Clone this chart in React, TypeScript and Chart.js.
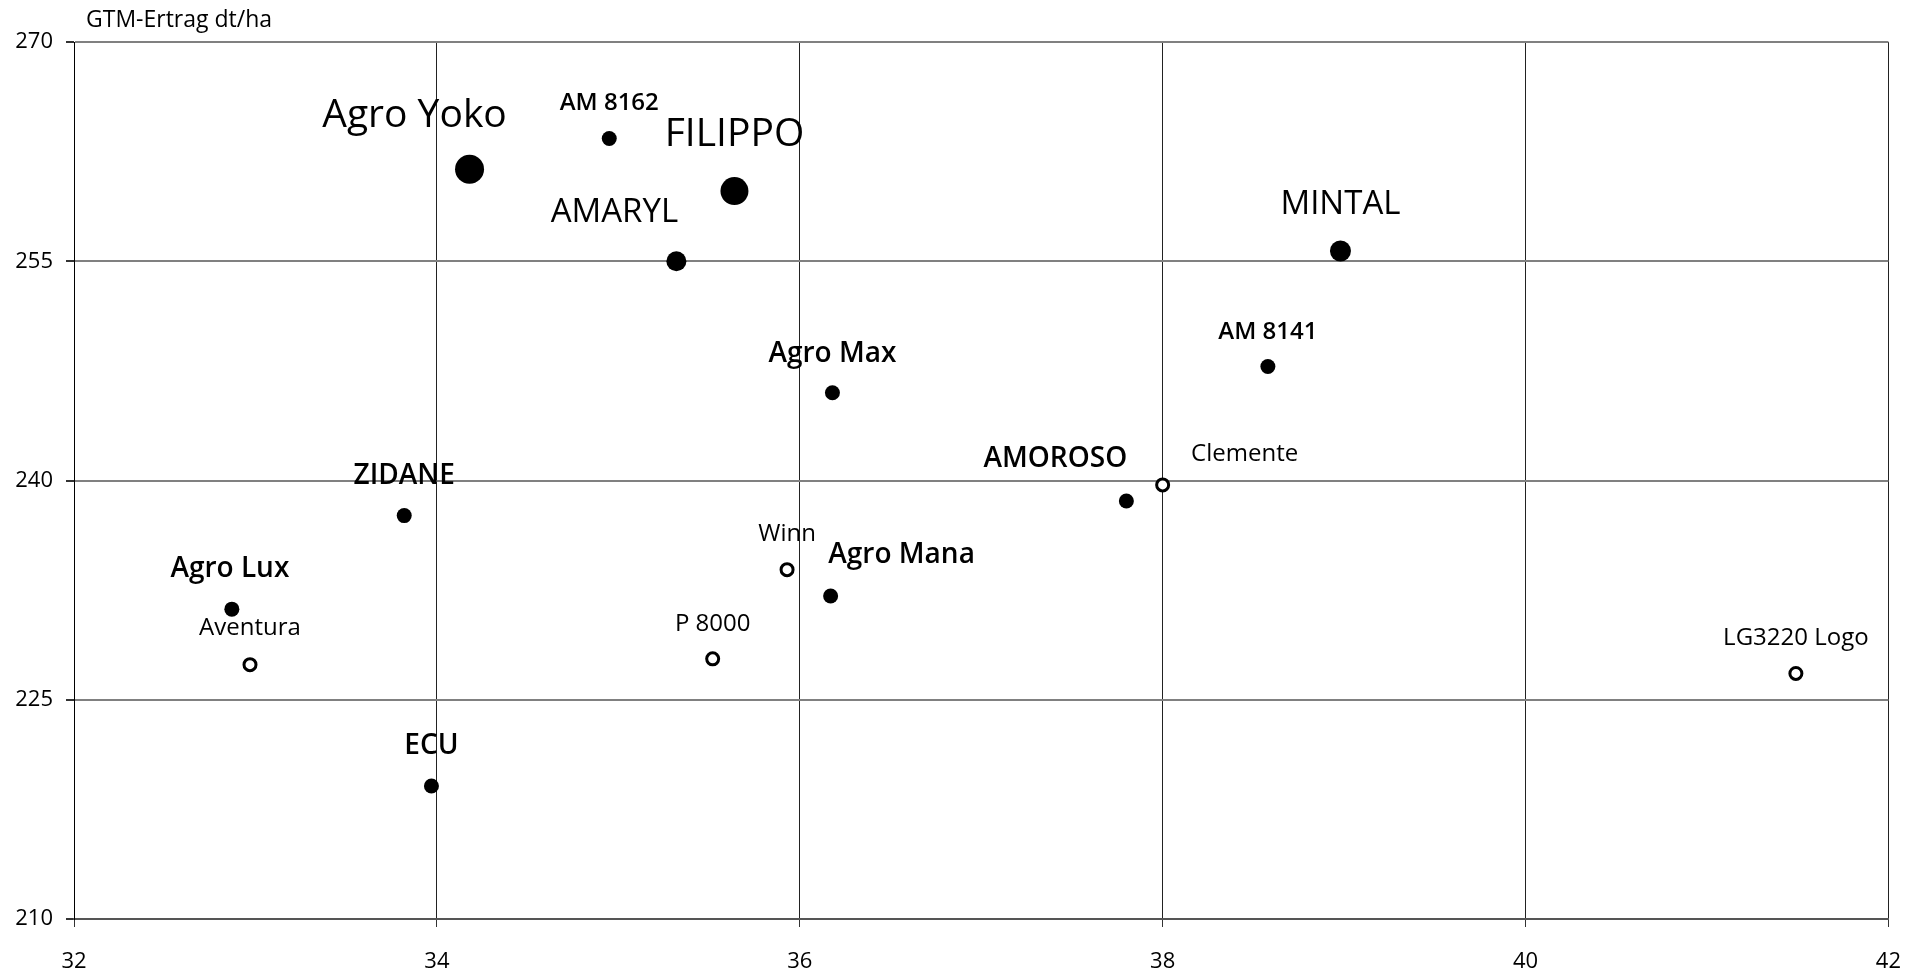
import React, { useEffect, useRef } from "react";
import { Chart, registerables } from "chart.js";

Chart.register(...registerables);

// ---- data ----
const xTickValues = [32, 34, 36, 38, 40, 42];
const yTickValues = [210, 225, 240, 255, 270];
const yAxisTitle = "GTM-Ertrag dt/ha";

const filledNames = ["Agro Yoko", "AM 8162", "FILIPPO", "AMARYL", "MINTAL", "AM 8141", "Agro Max", "AMOROSO", "ZIDANE", "Agro Lux", "Agro Mana", "ECU"];
const filledOil = [34.18, 34.95, 35.64, 35.32, 38.98, 38.58, 36.18, 37.8, 33.82, 32.87, 36.17, 33.97];
const filledYield = [261.3, 263.4, 259.8, 255.0, 255.7, 247.8, 246.0, 238.6, 237.6, 231.2, 232.1, 219.1];

const openNames = ["Clemente", "Winn", "P 8000", "Aventura", "LG3220 Logo"];
const openOil = [38.0, 35.93, 35.52, 32.97, 41.49];
const openYield = [239.7, 233.9, 227.8, 227.4, 226.8];

// ---- styles (sizes, label offsets) ----
type LabelStyle = { r: number; dx: number; dy: number; size: number; weight: number; align: CanvasTextAlign };
const filledStyles: LabelStyle[] = [
  { r: 14.5, dx: -55, dy: -42, size: 39, weight: 400, align: "center" },
  { r: 7.5, dx: 0, dy: -28, size: 24, weight: 600, align: "center" },
  { r: 14, dx: 0, dy: -45, size: 39, weight: 400, align: "center" },
  { r: 10, dx: -62, dy: -39, size: 33, weight: 400, align: "center" },
  { r: 10.5, dx: 0, dy: -37, size: 33, weight: 400, align: "center" },
  { r: 7.5, dx: 0, dy: -27, size: 24, weight: 600, align: "center" },
  { r: 7.5, dx: 0, dy: -31, size: 28, weight: 600, align: "center" },
  { r: 7.5, dx: -71, dy: -34, size: 28, weight: 600, align: "center" },
  { r: 7.5, dx: 0, dy: -32, size: 28, weight: 600, align: "center" },
  { r: 7.5, dx: -2, dy: -32, size: 28, weight: 600, align: "center" },
  { r: 7.5, dx: 71, dy: -33, size: 28, weight: 600, align: "center" },
  { r: 7.5, dx: 0, dy: -32, size: 28, weight: 600, align: "center" },
];
const openStyles: LabelStyle[] = [
  { r: 6, dx: 82, dy: -24, size: 24, weight: 400, align: "center" },
  { r: 6, dx: 0, dy: -29, size: 24, weight: 400, align: "center" },
  { r: 6, dx: 0, dy: -28, size: 24, weight: 400, align: "center" },
  { r: 6, dx: 0, dy: -30, size: 24, weight: 400, align: "center" },
  { r: 6, dx: 0, dy: -28, size: 24, weight: 400, align: "center" },
];

const FONT = '"Open Sans", "DejaVu Sans", sans-serif';

const labelPlugin = {
  id: "pointLabels",
  afterDatasetsDraw(chart: any) {
    const ctx: CanvasRenderingContext2D = chart.ctx;
    chart.data.datasets.forEach((_ds: any, di: number) => {
      const meta = chart.getDatasetMeta(di);
      const styles = di === 0 ? filledStyles : openStyles;
      const names = di === 0 ? filledNames : openNames;
      meta.data.forEach((el: any, i: number) => {
        const s = styles[i];
        ctx.save();
        ctx.font = `${s.weight} ${s.size}px ${FONT}`;
        ctx.fillStyle = "#000";
        ctx.textAlign = s.align;
        ctx.textBaseline = "alphabetic";
        ctx.fillText(names[i], el.x + s.dx, el.y + s.dy);
        ctx.restore();
      });
    });
  },
  afterDraw(chart: any) {
    const ctx: CanvasRenderingContext2D = chart.ctx;
    ctx.save();
    ctx.font = `400 23px ${FONT}`;
    ctx.fillStyle = "#000";
    ctx.textAlign = "left";
    ctx.textBaseline = "alphabetic";
    ctx.fillText(yAxisTitle, chart.chartArea.left + 12, chart.chartArea.top - 15);
    ctx.restore();
  },
};

export default function App() {
  const ref = useRef<HTMLCanvasElement | null>(null);
  useEffect(() => {
    if (!ref.current) return;
    const chart = new Chart(ref.current, {
      type: "scatter",
      data: {
        datasets: [
          {
            label: "filled",
            data: filledOil.map((x, i) => ({ x, y: filledYield[i] })),
            pointRadius: filledStyles.map((s) => s.r),
            pointBackgroundColor: "#000",
            pointBorderColor: "#000",
            pointBorderWidth: 0,
          },
          {
            label: "open",
            data: openOil.map((x, i) => ({ x, y: openYield[i] })),
            pointRadius: openStyles.map((s) => s.r),
            pointBackgroundColor: "#fff",
            pointBorderColor: "#000",
            pointBorderWidth: 3,
          },
        ],
      },
      options: {
        animation: false,
        responsive: false,
        devicePixelRatio: 1,
        layout: { padding: { left: 0, right: 33, top: 42, bottom: 0 } },
        plugins: { legend: { display: false }, tooltip: { enabled: false }, title: { display: false } },
        scales: {
          x: {
            type: "linear",
            min: xTickValues[0],
            max: xTickValues[xTickValues.length - 1],
            afterBuildTicks: (scale: any) => {
              scale.ticks = xTickValues.map((v) => ({ value: v }));
            },
            afterFit: (scale: any) => {
              scale.height = 57;
            },
            grid: { color: "#222", lineWidth: 1, tickLength: 8, tickColor: "#333" },
            border: { color: "#555", width: 2 },
            ticks: { color: "#000", font: { family: FONT, size: 22 }, padding: 22 },
          },
          y: {
            type: "linear",
            min: yTickValues[0],
            max: yTickValues[yTickValues.length - 1],
            afterBuildTicks: (scale: any) => {
              scale.ticks = yTickValues.map((v) => ({ value: v }));
            },
            afterFit: (scale: any) => {
              scale.width = 74;
            },
            grid: { color: "#808080", lineWidth: 2, tickLength: 8, tickColor: "#333" },
            border: { color: "#000", width: 1 },
            ticks: { color: "#000", font: { family: FONT, size: 22 }, padding: 13 },
          },
        },
      },
      plugins: [labelPlugin],
    });
    return () => chart.destroy();
  }, []);
  return (
    <div style={{ position: "fixed", left: 0, top: 0, width: 1923, height: 976, background: "#fff" }}>
      <canvas ref={ref} width={1923} height={976} style={{ display: "block", width: 1923, height: 976 }} />
    </div>
  );
}
